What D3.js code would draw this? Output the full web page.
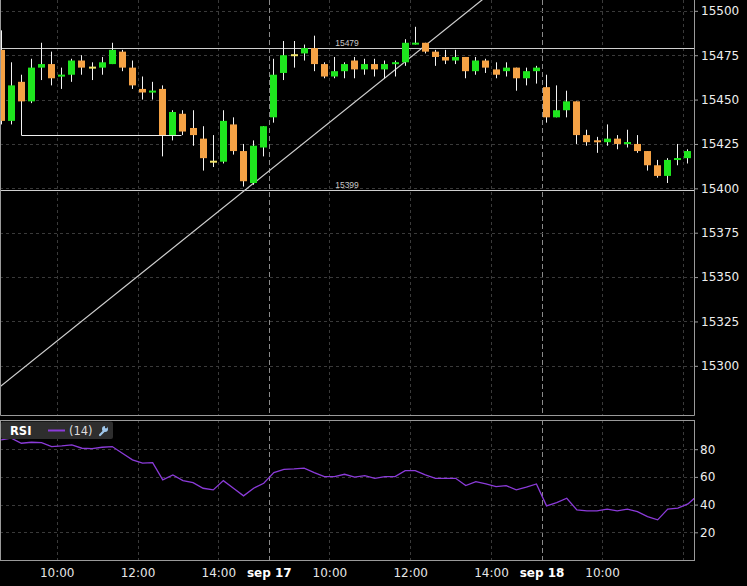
<!DOCTYPE html>
<html>

<head>
    <meta charset=utf-8 />
    <script src="https://cdn.jsdelivr.net/npm/d3@7/dist/d3.min.js"></script>
    <title>YM 15m</title>
    <style>
        html,
        body {
            margin: 0;
            padding: 0;
            background: #000;
        }

        svg {
            display: block;
            font-family: "DejaVu Sans", Verdana, sans-serif;
        }
    </style>
</head>

<body>
    <svg width="747" height="586"></svg>
    <script>
        // sessions of 15 minute bars
        var sessionDays = ['2013-09-16', '2013-09-17', '2013-09-18'];
        var sessionBars = [27, 27, 16];
        var sessionOpen = '08:30';
        var barMinutes = 15;

        var opens = [15478, 15438, 15460, 15449, 15468, 15470, 15463, 15464, 15472, 15468, 15468, 15470, 15477, 15468, 15456, 15454, 15456, 15430, 15442, 15434, 15428, 15415, 15415, 15436, 15421, 15403, 15423,
            15440, 15465, 15475, 15476, 15479, 15470, 15463, 15466, 15472, 15467, 15470, 15467, 15470, 15471, 15481, 15482, 15477, 15474, 15472, 15474, 15466, 15472, 15467, 15466, 15468, 15462, 15466,
            15457, 15440, 15444, 15449, 15430, 15427, 15426, 15428, 15425, 15425, 15421, 15413, 15407, 15416, 15417];
        var highs = [15489, 15471, 15464, 15473, 15482, 15477, 15468, 15473, 15475, 15471, 15474, 15482, 15478, 15472, 15463, 15460, 15458, 15444, 15444, 15444, 15435, 15430, 15444, 15440, 15425, 15427, 15435,
            15473, 15483, 15483, 15481, 15486, 15471, 15474, 15471, 15474, 15473, 15473, 15472, 15472, 15484, 15491, 15482, 15478, 15478, 15478, 15474, 15474, 15473, 15471, 15471, 15468, 15468, 15469,
            15464, 15458, 15455, 15449, 15433, 15429, 15436, 15430, 15433, 15430, 15421, 15416, 15417, 15425, 15422];
        var lows = [15436, 15436, 15430, 15448, 15461, 15458, 15456, 15460, 15464, 15461, 15464, 15470, 15466, 15456, 15450, 15450, 15418, 15427, 15430, 15424, 15410, 15412, 15414, 15419, 15401, 15402, 15418,
            15437, 15461, 15468, 15472, 15466, 15462, 15462, 15462, 15462, 15464, 15463, 15462, 15463, 15469, 15481, 15476, 15469, 15470, 15470, 15462, 15464, 15465, 15462, 15463, 15455, 15458, 15459,
            15437, 15440, 15440, 15425, 15424, 15420, 15424, 15422, 15423, 15420, 15410, 15406, 15403, 15413, 15414];
        var closes = [15438, 15458, 15449, 15468, 15470, 15462, 15464, 15472, 15468, 15468, 15471, 15478, 15468, 15458, 15454, 15455, 15430, 15443, 15432, 15430, 15417, 15415, 15438, 15421, 15404, 15424, 15435,
            15464, 15475, 15475, 15479, 15470, 15463, 15466, 15470, 15467, 15470, 15467, 15470, 15471, 15482, 15482, 15477, 15474, 15472, 15474, 15466, 15472, 15468, 15464, 15468, 15462, 15466, 15468,
            15440, 15444, 15449, 15430, 15426, 15426, 15428, 15425, 15426, 15421, 15413, 15407, 15416, 15417, 15421];

        var rsiValues = [86.7, 88.0, 84.3, 85.0, 84.8, 81.9, 82.4, 83.1, 80.7, 80.4, 81.4, 81.9, 77.1, 72.3, 69.9, 70.3, 57.8, 61.4, 57.3, 55.9, 51.8, 50.6, 57.3, 51.8, 46.3, 51.8, 55.4,
            63.1, 65.5, 65.8, 66.3, 63.1, 60.2, 60.2, 61.9, 59.8, 60.9, 59.0, 60.2, 60.2, 64.5, 64.5, 61.4, 59.0, 59.0, 59.0, 53.7, 56.6, 54.9, 53.0, 53.7, 50.6, 52.6, 54.9,
            39.1, 41.4, 44.6, 36.2, 35.5, 35.5, 36.7, 35.5, 36.7, 34.9, 31.3, 29.0, 36.7, 37.4, 40.5, 47.0];

        var priceTicks = [15300, 15325, 15350, 15375, 15400, 15425, 15450, 15475, 15500];
        var rsiTicks = [20, 40, 60, 80];

        var gridTimes = ['2013-09-16 10:00', '2013-09-16 12:00', '2013-09-16 14:00', '2013-09-17 08:30', '2013-09-17 10:00',
            '2013-09-17 12:00', '2013-09-17 14:00', '2013-09-18 08:30', '2013-09-18 10:00', '2013-09-18 12:00'];
        var gridLabels = ['10:00', '12:00', '14:00', 'sep 17', '10:00', '12:00', '14:00', 'sep 18', '10:00', ''];

        // drawings on the price panel
        var levelLines = [15479, 15399];
        var trendBars = [24, 42];
        var trendPrices = [15398.3, 15480.5];
        var lowSegment = { from: 2, to: 17.85, price: 15430 };

        var W = 694, mainH = 415, rsiTop = 420, rsiBottom = 560;

        var parseTime = d3.timeParse('%Y-%m-%d %H:%M');
        var fmtKey = d3.timeFormat('%Y-%m-%d %H:%M');
        var times = [];
        sessionDays.forEach(function (day, k) {
            var t0 = parseTime(day + ' ' + sessionOpen);
            for (var j = 0; j < sessionBars[k]; j++) {
                times.push(fmtKey(d3.timeMinute.offset(t0, j * barMinutes)));
            }
        });

        var step = 10.1;
        var x = d3.scaleBand()
            .domain(times)
            .range([-3.9, -3.9 + times.length * step])
            .paddingInner(0.3)
            .paddingOuter(0.15);
        var xIdx = d3.scaleLinear()
            .domain([-0.5, times.length - 0.5])
            .range(x.range());

        var y = d3.scaleLinear().domain([15272.3, 15506.1]).range([mainH, 0]);
        var yRsi = d3.scaleLinear().domain([0, 100]).range([rsiBottom, 421.5]);

        var svg = d3.select('svg');
        svg.append('rect').attr('width', 747).attr('height', 586).attr('fill', '#000');

        var defs = svg.append('defs');
        defs.append('clipPath').attr('id', 'clipMain')
            .append('rect').attr('x', 0).attr('y', 0).attr('width', W).attr('height', mainH);
        defs.append('clipPath').attr('id', 'clipRsi')
            .append('rect').attr('x', 0).attr('y', rsiTop).attr('width', W).attr('height', rsiBottom - rsiTop);

        function crisp(v) {
            return Math.round(v) + 0.5;
        }

        // grids
        var grid = svg.append('g');
        var gridIdx = gridTimes.map(function (t) { return times.indexOf(t); });

        [[0, mainH], [rsiTop, rsiBottom]].forEach(function (span) {
            grid.selectAll(null)
                .data(gridIdx)
                .enter().append('line')
                .attr('x1', function (d) { return crisp(xIdx(d - 0.5)); })
                .attr('x2', function (d) { return crisp(xIdx(d - 0.5)); })
                .attr('y1', span[0])
                .attr('y2', span[1])
                .attr('stroke', function (d, i) { return gridLabels[i].indexOf('sep') === 0 ? '#8a8a8a' : '#3a3a3a'; })
                .attr('stroke-dasharray', function (d, i) { return gridLabels[i].indexOf('sep') === 0 ? '5,3' : '3,3'; });
        });

        grid.selectAll(null)
            .data(priceTicks)
            .enter().append('line')
            .attr('x1', 0).attr('x2', W)
            .attr('y1', function (d) { return crisp(y(d)); })
            .attr('y2', function (d) { return crisp(y(d)); })
            .attr('stroke', '#3a3a3a')
            .attr('stroke-dasharray', '3,3');

        grid.selectAll(null)
            .data(rsiTicks)
            .enter().append('line')
            .attr('x1', 0).attr('x2', W)
            .attr('y1', function (d) { return crisp(yRsi(d)); })
            .attr('y2', function (d) { return crisp(yRsi(d)); })
            .attr('stroke', '#3a3a3a')
            .attr('stroke-dasharray', '3,3');

        // price panel
        var main = svg.append('g').attr('clip-path', 'url(#clipMain)');

        main.selectAll(null)
            .data(levelLines)
            .enter().append('line')
            .attr('x1', 0).attr('x2', W)
            .attr('y1', function (d) { return crisp(y(d)); })
            .attr('y2', function (d) { return crisp(y(d)); })
            .attr('stroke', '#cfcfcf');

        main.selectAll(null)
            .data(levelLines)
            .enter().append('text')
            .attr('x', W / 2)
            .attr('y', function (d) { return y(d) - 2.5; })
            .attr('text-anchor', 'middle')
            .attr('fill', '#c8c8c8')
            .style('font-family', '"Liberation Sans", Arial, sans-serif')
            .style('font-size', '8.5px')
            .text(function (d) { return d; });

        function trendPrice(i) {
            var slope = (trendPrices[1] - trendPrices[0]) / (trendBars[1] - trendBars[0]);
            return trendPrices[0] + (i - trendBars[0]) * slope;
        }
        main.append('line')
            .attr('x1', xIdx(-2)).attr('y1', y(trendPrice(-2)))
            .attr('x2', xIdx(70)).attr('y2', y(trendPrice(70)))
            .attr('stroke', '#d0d0d0')
            .attr('stroke-width', 1.2);

        main.append('line')
            .attr('x1', xIdx(lowSegment.from)).attr('x2', xIdx(lowSegment.to))
            .attr('y1', crisp(y(lowSegment.price))).attr('y2', crisp(y(lowSegment.price)))
            .attr('stroke', '#f0f0f0');

        var candles = opens.map(function (o, i) {
            return { t: times[i], o: o, h: highs[i], l: lows[i], c: closes[i] };
        });

        function candleColor(d) {
            if (d.c > d.o) return '#1ee61e';
            if (d.c < d.o) return '#f5a245';
            return '#f2e46a';
        }

        var bw = Math.round(x.bandwidth());
        var cg = main.selectAll('g.candle')
            .data(candles)
            .enter().append('g')
            .attr('class', 'candle');

        cg.append('line')
            .attr('x1', function (d) { return Math.round(x(d.t)) + bw / 2; })
            .attr('x2', function (d) { return Math.round(x(d.t)) + bw / 2; })
            .attr('y1', function (d) { return y(d.h); })
            .attr('y2', function (d) { return y(d.l); })
            .attr('stroke', '#f4f4f4');

        cg.append('rect')
            .attr('x', function (d) { return Math.round(x(d.t)); })
            .attr('width', bw)
            .attr('y', function (d) {
                var top = y(Math.max(d.o, d.c)), bot = y(Math.min(d.o, d.c));
                return bot - top < 2 ? (top + bot) / 2 - 1 : top;
            })
            .attr('height', function (d) {
                return Math.max(2, y(Math.min(d.o, d.c)) - y(Math.max(d.o, d.c)));
            })
            .attr('fill', candleColor);

        // rsi panel
        var rsiLine = d3.line()
            .x(function (d, i) { return xIdx(i); })
            .y(function (d) { return yRsi(d); });

        svg.append('g').attr('clip-path', 'url(#clipRsi)')
            .append('path')
            .datum(rsiValues)
            .attr('d', rsiLine)
            .attr('fill', 'none')
            .attr('stroke', '#8b3bd9')
            .attr('stroke-width', 1.3);

        // frames
        svg.append('path')
            .attr('d', 'M0.5,0V' + (mainH + 0.5) + 'H' + (W + 0.5) + 'V0')
            .attr('fill', 'none')
            .attr('stroke', '#9a9a9a');
        svg.append('rect')
            .attr('x', 0.5).attr('y', rsiTop + 0.5)
            .attr('width', W).attr('height', rsiBottom - rsiTop)
            .attr('fill', 'none')
            .attr('stroke', '#9a9a9a');

        // axes
        function styleAxis(g) {
            g.select('.domain').remove();
            g.selectAll('.tick line').attr('stroke', '#9a9a9a');
            g.selectAll('.tick text')
                .attr('fill', '#eeeeee')
                .style('font-size', '12px')
                .style('font-family', '"DejaVu Sans", Verdana, sans-serif');
        }

        svg.append('g')
            .attr('transform', 'translate(' + W + ',0)')
            .call(d3.axisRight(y).tickValues(priceTicks).tickSize(4).tickPadding(3).tickFormat(d3.format('d')))
            .call(styleAxis);

        svg.append('g')
            .attr('transform', 'translate(' + W + ',0)')
            .call(d3.axisRight(yRsi).tickValues(rsiTicks).tickSize(4).tickPadding(2))
            .call(styleAxis);

        svg.append('g')
            .attr('transform', 'translate(0,' + rsiBottom + ')')
            .call(d3.axisBottom(xIdx)
                .tickValues(gridIdx.map(function (d) { return d - 0.5; }))
                .tickSize(0)
                .tickPadding(8.5)
                .tickFormat(function (d, i) { return gridLabels[i]; }))
            .call(styleAxis)
            .selectAll('.tick text')
            .style('font-weight', function (d, i) { return gridLabels[i].indexOf('sep') === 0 ? 'bold' : 'normal'; })
            .attr('fill', function (d, i) { return gridLabels[i].indexOf('sep') === 0 ? '#ffffff' : '#e6e6e6'; });

        // rsi legend
        var legend = svg.append('g');
        legend.append('rect')
            .attr('x', 1).attr('y', 421.5)
            .attr('width', 112).attr('height', 17.5)
            .attr('rx', 2)
            .attr('fill', '#2e2e2e');
        legend.append('text')
            .attr('x', 10).attr('y', 434.5)
            .attr('fill', '#ffffff')
            .style('font-size', '11.5px')
            .style('font-weight', 'bold')
            .text('RSI');
        legend.append('line')
            .attr('x1', 48).attr('x2', 65)
            .attr('y1', 430.5).attr('y2', 430.5)
            .attr('stroke', '#8b3bd9')
            .attr('stroke-width', 2);
        legend.append('text')
            .attr('x', 69).attr('y', 434.5)
            .attr('fill', '#dddddd')
            .style('font-size', '11.5px')
            .text('(14)');
        // small wrench icon
        legend.append('line')
            .attr('x1', 100).attr('y1', 435)
            .attr('x2', 104.5).attr('y2', 430.5)
            .attr('stroke', '#9fc6ea')
            .attr('stroke-width', 2.2)
            .attr('stroke-linecap', 'round');
        legend.append('circle')
            .attr('cx', 105).attr('cy', 429)
            .attr('r', 3)
            .attr('fill', '#9fc6ea');
        legend.append('rect')
            .attr('x', 105).attr('y', 425)
            .attr('width', 2.2).attr('height', 3.2)
            .attr('fill', '#2e2e2e');
    </script>
</body>

</html>
